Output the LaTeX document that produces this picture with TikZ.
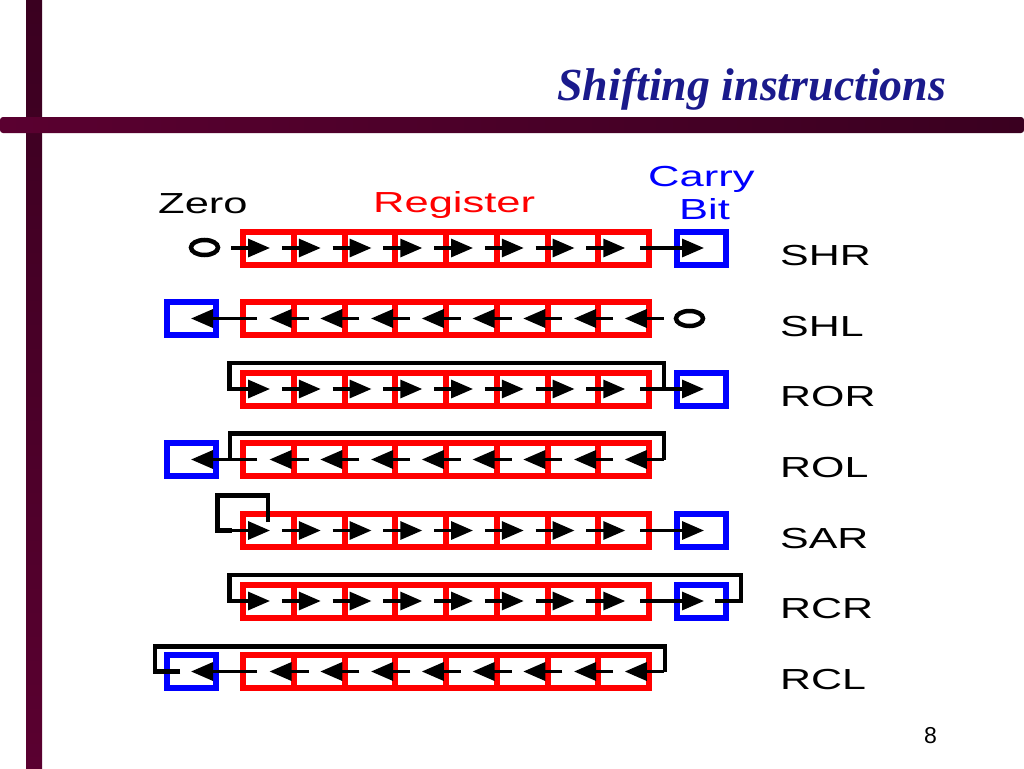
\documentclass[tikz,border=0pt]{standalone}
\usepackage{fontspec}
\setmainfont{Liberation Serif}
\setsansfont{Liberation Sans}
\usetikzlibrary{arrows.meta}
\definecolor{maroonA}{RGB}{58,0,32}
\definecolor{maroonB}{RGB}{90,0,48}
\definecolor{titleblue}{RGB}{26,26,140}
\definecolor{regred}{RGB}{255,0,0}
\definecolor{carryblue}{RGB}{0,0,255}
\newcommand{\wlabel}[1]{\scalebox{1.5}[1]{#1}}
\newcommand{\rlabel}[1]{\scalebox{1.48}[1]{#1}}
\newcommand{\regrow}[1]{%
  \draw[reg] (243,#1-16.5) rectangle (649,#1+16.5);
  \foreach \k in {1,...,7} {\draw[reg] (243+\k*50.75,#1-16.5) -- ++(0,33);}
}
\newcommand{\rightarrows}[1]{%
  \foreach \k in {0,...,7} {\draw[arr] (231+\k*50.75,#1) -- (270+\k*50.75,#1);}
}
\newcommand{\leftarrows}[1]{%
  \foreach \k in {0,...,7} {\draw[arr] (308.5+\k*50.75,#1) -- (269.5+\k*50.75,#1);}
}
\newcommand{\carryright}[1]{%
  \draw[carrybox] (677,#1-16.5) rectangle (726,#1+16.5);
}
\newcommand{\carryleft}[1]{%
  \draw[carrybox] (167,#1-16.5) rectangle (216,#1+16.5);
}
\begin{document}
\begin{tikzpicture}[x=1pt,y=-1pt,
  reg/.style={draw=regred,line width=6pt},
  carrybox/.style={draw=carryblue,line width=6pt},
  arr/.style={line width=3.3pt,-{Triangle[length=22pt,width=18pt]}},
  loopline/.style={line width=4.5pt},
  bitzero/.style={line width=4.5pt},
  lbl/.style={font=\sffamily\fontsize{29}{29}\selectfont, inner sep=0pt, anchor=base west},
]
\useasboundingbox (0,0) rectangle (1024,768);
\fill[white] (0,0) rectangle (1024,768);
% slide frame
\shade[top color=maroonA, bottom color=maroonB] (26,0) rectangle (42,768);
\shade[left color=maroonB, right color=maroonA, rounded corners=3pt] (0,117) rectangle (1024,133);
% title
\node[anchor=base west, inner sep=0pt, text=titleblue] (title) at (557,100)
  {\resizebox{389pt}{!}{\bfseries\itshape Shifting instructions}};
% header labels
\node[lbl] (zero) at (158,213) {\wlabel{Zero}};
\node[lbl, text=regred] (register) at (373,212) {\wlabel{Register}};
\node[lbl, text=carryblue] (carry) at (648,186) {\wlabel{Carry}};
\node[lbl, text=carryblue] (bit) at (679,219) {\wlabel{Bit}};
% ---------- SHR ----------
\regrow{248}
\carryright{248}
\draw[bitzero] (204.5,247.5) ellipse [x radius=13.5, y radius=7.5];
\rightarrows{248}
\draw[arr] (640,248) -- (704,248);
% ---------- SHL ----------
\regrow{318.5}
\carryleft{318.5}
\draw[bitzero] (689.5,318.5) ellipse [x radius=13.5, y radius=7.5];
\leftarrows{318.5}
\draw[arr] (257,318.5) -- (191,318.5);
% ---------- ROR ----------
\regrow{389}
\carryright{389}
\draw[loopline] (664,389) -- (664,363) -- (229.5,363) -- (229.5,389) -- (232,389);
\rightarrows{389}
\draw[arr] (640,389) -- (704,389);
% ---------- ROL ----------
\regrow{459.5}
\carryleft{459.5}
\draw[loopline] (230,459.5) -- (230,433.5) -- (664,433.5) -- (664,459.5);
\leftarrows{459.5}
\draw[arr] (257,459.5) -- (191,459.5);
% ---------- SAR ----------
\regrow{530.5}
\carryright{530.5}
\draw[loopline] (268,522) -- (268,495.5) -- (217.5,495.5) -- (217.5,530.5) -- (232,530.5);
\rightarrows{530.5}
\draw[arr] (640,530.5) -- (704,530.5);
% ---------- RCR ----------
\regrow{601}
\carryright{601}
\draw[loopline] (715,601) -- (741,601) -- (741,575) -- (229.5,575) -- (229.5,601) -- (232,601);
\rightarrows{601}
\draw[arr] (640,601) -- (704,601);
% ---------- RCL ----------
\regrow{671.5}
\carryleft{671.5}
\draw[loopline] (180,671.5) -- (155,671.5) -- (155,646.5) -- (665,646.5) -- (665,671.5);
\leftarrows{671.5}
\draw[arr] (257,671.5) -- (191,671.5);
% right labels
\node[lbl] (shr) at (780,265.5) {\rlabel{SHR}};
\node[lbl] (shl) at (780,336) {\rlabel{SHL}};
\node[lbl] (ror) at (780,406.5) {\rlabel{ROR}};
\node[lbl] (rol) at (780,477) {\rlabel{ROL}};
\node[lbl] (sar) at (780,548) {\rlabel{SAR}};
\node[lbl] (rcr) at (780,618.5) {\rlabel{RCR}};
\node[lbl] (rcl) at (780,689) {\rlabel{RCL}};
% page number
\node[font=\sffamily\fontsize{23}{23}\selectfont, inner sep=0pt, anchor=base] (pg) at (930.5,743) {8};
\end{tikzpicture}
\end{document}
